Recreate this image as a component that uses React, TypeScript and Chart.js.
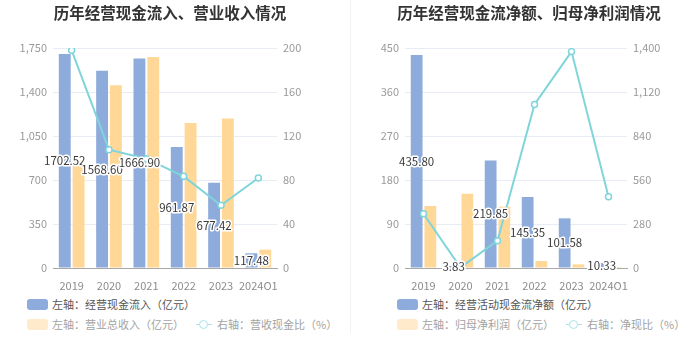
import React, { useEffect, useRef } from "react";
import { Chart, registerables } from "chart.js";

Chart.register(...registerables);

const years = ["2019", "2020", "2021", "2022", "2023", "2024Q1"];

const cashInflow = [1702.52, 1568.6, 1666.9, 961.87, 677.42, 117.48];
const revenue = [855, 1453, 1678, 1153, 1190, 146];
const cashRatio = [197.9, 107.6, 99.4, 83.3, 57.0, 81.8];

const netCashFlow = [435.8, 3.83, 219.85, 145.35, 101.58, 10.33];
const netProfit = [126.8, 152, 125.5, 14.3, 7.5, 2.0];
const netCashRatio = [345, 2.5, 174, 1041, 1377, 454];

const leftTicks1 = { max: 1750, step: 350 };
const rightTicks1 = { max: 200, step: 40 };
const leftTicks2 = { max: 450, step: 90 };
const rightTicks2 = { max: 1400, step: 280 };

const BLUE = "#8DACDB";
const ORANGE = "#FFD897";
const CYAN = "#7FD5DA";
const FONT = "'Noto Sans CJK SC', 'Noto Sans', sans-serif";

const barLabelPlugin = {
  id: "barLabels",
  afterDatasetsDraw(chart: any) {
    const ctx = chart.ctx;
    const meta = chart.getDatasetMeta(0);
    const data = chart.data.datasets[0].data as number[];
    ctx.save();
    ctx.font = `11.5px ${FONT}`;
    ctx.textAlign = "center";
    ctx.textBaseline = "middle";
    ctx.lineJoin = "round";
    meta.data.forEach((el: any, i: number) => {
      const x = el.x;
      const y = (el.y + el.base) / 2;
      const t = data[i].toFixed(2);
      ctx.lineWidth = 3;
      ctx.strokeStyle = "#ffffff";
      ctx.strokeText(t, x, y);
      ctx.fillStyle = "#3a3a3a";
      ctx.fillText(t, x, y);
    });
    ctx.restore();
  },
};

function makeConfig(
  bars1: number[],
  bars2: number[],
  line: number[],
  lt: { max: number; step: number },
  rt: { max: number; step: number },
  leftW: number,
  rightW: number
): any {
  const fmt = (v: any) => Number(v).toLocaleString("en-US");
  return {
    type: "bar",
    data: {
      labels: years,
      datasets: [
        {
          type: "bar",
          data: bars1,
          backgroundColor: BLUE,
          yAxisID: "y",
          order: 1,
          categoryPercentage: 0.74,
          barPercentage: 0.86,
        },
        {
          type: "bar",
          data: bars2,
          backgroundColor: ORANGE,
          yAxisID: "y",
          order: 1,
          categoryPercentage: 0.74,
          barPercentage: 0.86,
        },
        {
          type: "line",
          data: line,
          borderColor: CYAN,
          borderWidth: 2,
          pointRadius: 3,
          pointBorderWidth: 1.5,
          pointBackgroundColor: "#ffffff",
          pointBorderColor: CYAN,
          yAxisID: "y1",
          order: 0,
          tension: 0,
        },
      ],
    },
    options: {
      responsive: false,
      animation: false,
      layout: { padding: { top: 48, left: 0, right: 0, bottom: 0 } },
      plugins: {
        legend: { display: false },
        title: { display: false },
        tooltip: { enabled: false },
      },
      scales: {
        x: {
          grid: { display: false },
          border: { display: true, color: "#A8A8A8", width: 1 },
          ticks: {
            color: "#8C8C8C",
            font: { size: 11, family: FONT },
            padding: 3,
            maxRotation: 0,
            autoSkip: false,
          },
          afterFit(s: any) {
            s.height = 22;
          },
        },
        y: {
          position: "left",
          min: 0,
          max: lt.max,
          grid: { color: "#E8ECF5", drawTicks: false },
          border: { display: false },
          ticks: {
            stepSize: lt.step,
            color: "#9A9A9A",
            font: { size: 11, family: FONT },
            padding: 6,
            callback: fmt,
          },
          afterFit(s: any) {
            s.width = leftW;
          },
        },
        y1: {
          position: "right",
          min: 0,
          max: rt.max,
          grid: { display: false, drawTicks: false },
          border: { display: false },
          ticks: {
            stepSize: rt.step,
            color: "#9A9A9A",
            font: { size: 11, family: FONT },
            padding: 6,
            callback: fmt,
          },
          afterFit(s: any) {
            s.width = rightW;
          },
        },
      },
    },
    plugins: [barLabelPlugin],
  };
}

function Box({ color }: { color: string }) {
  return (
    <span
      style={{
        display: "inline-block",
        width: 21,
        height: 11,
        borderRadius: 3,
        background: color,
        marginRight: 4,
        verticalAlign: "middle",
      }}
    />
  );
}

function LineIcon() {
  return (
    <span
      style={{
        position: "relative",
        display: "inline-block",
        width: 16,
        height: 11,
        marginRight: 5,
        verticalAlign: "middle",
      }}
    >
      <span
        style={{
          position: "absolute",
          left: 0,
          top: 5,
          width: 16,
          height: 1.5,
          background: "#A9E3E7",
        }}
      />
      <span
        style={{
          position: "absolute",
          left: 3,
          top: 1,
          width: 7,
          height: 7,
          borderRadius: "50%",
          border: "1.5px solid #A9E3E7",
          background: "#fff",
        }}
      />
    </span>
  );
}

function Legend({
  left,
  first,
  second,
  third,
}: {
  left: number;
  first: string;
  second: string;
  third: string;
}) {
  const row: React.CSSProperties = {
    position: "absolute",
    left,
    height: 14,
    lineHeight: "14px",
    fontSize: 11,
    fontFamily: FONT,
    whiteSpace: "nowrap",
  };
  return (
    <>
      <div style={{ ...row, top: 295, color: "#555" }}>
        <Box color={BLUE} />
        <span style={{ verticalAlign: "middle" }}>{first}</span>
      </div>
      <div style={{ ...row, top: 315, color: "#A3A3A3" }}>
        <Box color="#FFEACB" />
        <span style={{ verticalAlign: "middle", marginRight: 12 }}>{second}</span>
        <LineIcon />
        <span style={{ verticalAlign: "middle" }}>{third}</span>
      </div>
    </>
  );
}

export default function App() {
  const c1 = useRef<HTMLCanvasElement>(null);
  const c2 = useRef<HTMLCanvasElement>(null);

  useEffect(() => {
    document.body.style.margin = "0";
    const ch1 = new Chart(
      c1.current!,
      makeConfig(cashInflow, revenue, cashRatio, leftTicks1, rightTicks1, 53, 73)
    );
    const ch2 = new Chart(
      c2.current!,
      makeConfig(netCashFlow, netProfit, netCashRatio, leftTicks2, rightTicks2, 54, 72)
    );
    return () => {
      ch1.destroy();
      ch2.destroy();
    };
  }, []);

  const title: React.CSSProperties = {
    position: "absolute",
    top: 2,
    height: 20,
    lineHeight: "20px",
    textAlign: "center",
    fontSize: 15.5,
    fontWeight: "bold",
    color: "#333",
    fontFamily: FONT,
    whiteSpace: "nowrap",
  };

  return (
    <div style={{ position: "relative", width: 699, height: 359, background: "#fff", overflow: "hidden" }}>
      <canvas ref={c1} width={350} height={290} style={{ position: "absolute", left: 0, top: 0 }} />
      <canvas ref={c2} width={348} height={290} style={{ position: "absolute", left: 351, top: 0 }} />
      <div style={{ ...title, left: 0, width: 340 }}>历年经营现金流入、营业收入情况</div>
      <div style={{ ...title, left: 351, width: 356 }}>历年经营现金流净额、归母净利润情况</div>
      <div style={{ position: "absolute", left: 350, top: 0, width: 1, height: 333, background: "#F2F2F2" }} />
      <Legend left={27} first="左轴：经营现金流入（亿元）" second="左轴：营业总收入（亿元）" third="右轴：营收现金比（%）" />
      <Legend left={397} first="左轴：经营活动现金流净额（亿元）" second="左轴：归母净利润（亿元）" third="右轴：净现比（%）" />
    </div>
  );
}
